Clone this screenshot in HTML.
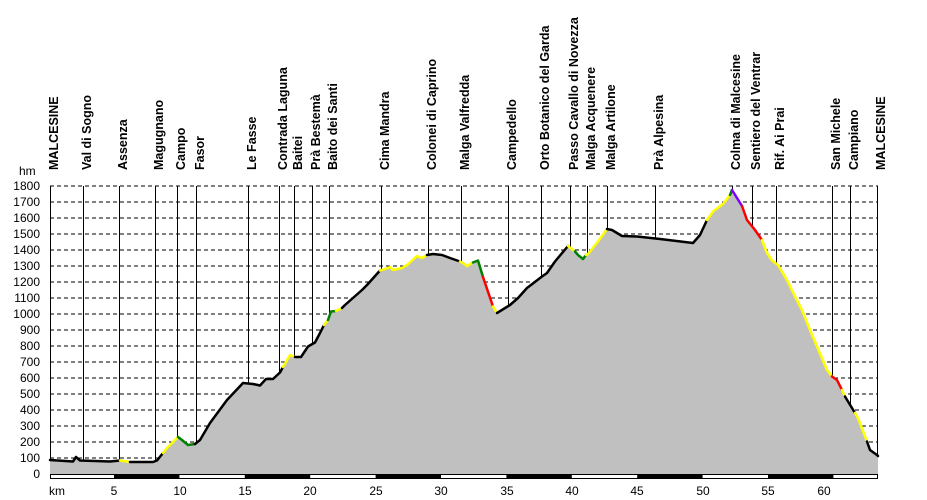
<!DOCTYPE html>
<html><head><meta charset="utf-8"><style>
html,body{margin:0;padding:0;background:#fff;}
svg{display:block;font-family:"Liberation Sans",Arial,sans-serif;}
.w{font-weight:bold;font-size:12.5px;fill:#000;}
.ax{font-size:12px;fill:#000;}
</style></head><body>
<svg width="927" height="500" viewBox="0 0 927 500">
<g stroke="#000" stroke-width="1" stroke-dasharray="4,3">
<line x1="50" y1="186" x2="878" y2="186"/><line x1="50" y1="202" x2="878" y2="202"/><line x1="50" y1="218" x2="878" y2="218"/><line x1="50" y1="234" x2="878" y2="234"/><line x1="50" y1="250" x2="878" y2="250"/><line x1="50" y1="266" x2="878" y2="266"/><line x1="50" y1="282" x2="878" y2="282"/><line x1="50" y1="298" x2="878" y2="298"/><line x1="50" y1="314" x2="878" y2="314"/><line x1="50" y1="330" x2="878" y2="330"/><line x1="50" y1="346" x2="878" y2="346"/><line x1="50" y1="362" x2="878" y2="362"/><line x1="50" y1="378" x2="878" y2="378"/><line x1="50" y1="394" x2="878" y2="394"/><line x1="50" y1="410" x2="878" y2="410"/><line x1="50" y1="426" x2="878" y2="426"/><line x1="50" y1="442" x2="878" y2="442"/><line x1="50" y1="458" x2="878" y2="458"/>
</g>
<g stroke="#000" stroke-width="1">
<line x1="50.5" y1="186" x2="50.5" y2="474"/><line x1="83.5" y1="186" x2="83.5" y2="474"/><line x1="119.5" y1="186" x2="119.5" y2="474"/><line x1="155.5" y1="186" x2="155.5" y2="474"/><line x1="177.5" y1="186" x2="177.5" y2="474"/><line x1="196.5" y1="186" x2="196.5" y2="474"/><line x1="248.5" y1="186" x2="248.5" y2="474"/><line x1="279.5" y1="186" x2="279.5" y2="474"/><line x1="294.5" y1="186" x2="294.5" y2="474"/><line x1="312.5" y1="186" x2="312.5" y2="474"/><line x1="329.5" y1="186" x2="329.5" y2="474"/><line x1="381.5" y1="186" x2="381.5" y2="474"/><line x1="428.5" y1="186" x2="428.5" y2="474"/><line x1="461.5" y1="186" x2="461.5" y2="474"/><line x1="508.5" y1="186" x2="508.5" y2="474"/><line x1="541.5" y1="186" x2="541.5" y2="474"/><line x1="570.5" y1="186" x2="570.5" y2="474"/><line x1="587.5" y1="186" x2="587.5" y2="474"/><line x1="607.5" y1="186" x2="607.5" y2="474"/><line x1="655.5" y1="186" x2="655.5" y2="474"/><line x1="732.5" y1="186" x2="732.5" y2="474"/><line x1="752.5" y1="186" x2="752.5" y2="474"/><line x1="776.5" y1="186" x2="776.5" y2="474"/><line x1="832.5" y1="186" x2="832.5" y2="474"/><line x1="850.5" y1="186" x2="850.5" y2="474"/><line x1="877.5" y1="186" x2="877.5" y2="474"/>
</g>
<polygon fill="#c0c0c0" points="50,460 73,461.5 76,457 80,460.5 110,461.5 120,460.5 130,462 153,462 157,460.5 163,453 167,448 172,443 178,437 182,440 188,445 195,444 200,440 210,423 227,400 243,383 253,384 260,385.5 266,379 273,379 280,372.5 283,367 290,355 295,357 301,357 308,346.5 315,342.5 320,333 324,325 328,320 331,311.5 336,311 342,308 345,305 362,290 367,285 380,270.5 385,269 390,267 393,270 402,268 407,265 417,256 422,258 427,255 433,254 442,255 450,258 460,261.5 463,263 467,266 473,262.5 478,260.5 483,277 493,306.5 497,313 510,305 518,298 527,288 542,276.5 547,273 555,261.5 568,246 575,251.5 578,255 583,259 586,255 588,254 598,241.5 607,229 612,230 622,236 637,236.5 660,239 693,243 700,235 707,220 713,211.5 723,204 730,195 732,190 737,198 742,206 747,220 755,230 762,240 767,253 772,260.5 778,265 787,280 795,296.5 802,310 810,330 817,346.5 827,370 832,376.5 837,380 842,390 845,396.5 855,413 858,418 867,441.5 870,450 877,455 878,456 878,474 50,474"/>
<g fill="none" stroke-width="2.5" stroke-linejoin="round" stroke-linecap="round">
<polyline stroke="#000" points="50,460 73,461.5 76,457 80,460.5 110,461.5 120,460.5"/>
<polyline stroke="#ffff00" points="120,460.5 130,462"/>
<polyline stroke="#000" points="130,462 153,462 157,460.5 163,453"/>
<polyline stroke="#ffff00" points="163,453 167,448 172,443 178,437"/>
<polyline stroke="#008000" points="178,437 182,440 188,445 195,444"/>
<polyline stroke="#000" points="195,444 200,440 210,423 227,400 243,383 253,384 260,385.5 266,379 273,379 280,372.5 283,367"/>
<polyline stroke="#ffff00" points="283,367 290,355 295,357"/>
<polyline stroke="#000" points="295,357 301,357 308,346.5 315,342.5 320,333 324,325"/>
<polyline stroke="#ffff00" points="324,325 328,320"/>
<polyline stroke="#008000" points="328,320 331,311.5 336,311"/>
<polyline stroke="#ffff00" points="336,311 342,308"/>
<polyline stroke="#000" points="342,308 345,305 362,290 367,285 380,270.5"/>
<polyline stroke="#ffff00" points="380,270.5 385,269 390,267 393,270 402,268 407,265 417,256 422,258 427,255"/>
<polyline stroke="#000" points="427,255 433,254 442,255 450,258 460,261.5"/>
<polyline stroke="#ffff00" points="460,261.5 463,263 467,266 473,262.5"/>
<polyline stroke="#008000" points="473,262.5 478,260.5 483,277"/>
<polyline stroke="#ff0000" points="483,277 493,306.5"/>
<polyline stroke="#ffff00" points="493,306.5 497,313"/>
<polyline stroke="#000" points="497,313 510,305 518,298 527,288 542,276.5 547,273 555,261.5 568,246"/>
<polyline stroke="#ffff00" points="568,246 575,251.5"/>
<polyline stroke="#008000" points="575,251.5 578,255 583,259 586,255"/>
<polyline stroke="#ffff00" points="586,255 588,254 598,241.5 607,229"/>
<polyline stroke="#000" points="607,229 612,230 622,236 637,236.5 660,239 693,243 700,235 707,220"/>
<polyline stroke="#ffff00" points="707,220 713,211.5 723,204 730,195"/>
<polyline stroke="#008000" points="730,195 732,190"/>
<polyline stroke="#8000ff" points="732,190 737,198 742,206"/>
<polyline stroke="#ff0000" points="742,206 747,220 755,230 762,240"/>
<polyline stroke="#ffff00" points="762,240 767,253 772,260.5 778,265 787,280 795,296.5 802,310 810,330 817,346.5 827,370 832,376.5"/>
<polyline stroke="#ff0000" points="832,376.5 837,380 842,390"/>
<polyline stroke="#ffff00" points="842,390 845,396.5"/>
<polyline stroke="#000" points="845,396.5 855,413"/>
<polyline stroke="#ffff00" points="855,413 858,418 867,441.5"/>
<polyline stroke="#000" points="867,441.5 870,450 877,455 878,456"/>
</g>
<rect x="50.5" y="474.5" width="827" height="4" fill="#fff" stroke="#000" stroke-width="1"/>
<g fill="#000">
<rect x="114" y="474" width="65.4" height="5"/><rect x="244.8" y="474" width="65.4" height="5"/><rect x="375.6" y="474" width="65.4" height="5"/><rect x="506.4" y="474" width="65.4" height="5"/><rect x="637.2" y="474" width="65.4" height="5"/><rect x="768" y="474" width="65.4" height="5"/>
</g>
<g class="ax" text-anchor="end">
<text x="40" y="190">1800</text><text x="40" y="206">1700</text><text x="40" y="222">1600</text><text x="40" y="238">1500</text><text x="40" y="254">1400</text><text x="40" y="270">1300</text><text x="40" y="286">1200</text><text x="40" y="302">1100</text><text x="40" y="318">1000</text><text x="40" y="334">900</text><text x="40" y="350">800</text><text x="40" y="366">700</text><text x="40" y="382">600</text><text x="40" y="398">500</text><text x="40" y="414">400</text><text x="40" y="430">300</text><text x="40" y="446">200</text><text x="40" y="462">100</text><text x="40" y="478">0</text>
</g>
<text class="ax" x="19" y="175">hm</text>
<g class="ax" text-anchor="middle">
<text x="57" y="495">km</text><text x="114" y="495">5</text><text x="180" y="495">10</text><text x="245" y="495">15</text><text x="310" y="495">20</text><text x="376" y="495">25</text><text x="441" y="495">30</text><text x="507" y="495">35</text><text x="572" y="495">40</text><text x="637" y="495">45</text><text x="703" y="495">50</text><text x="768" y="495">55</text><text x="824" y="495">60</text>
</g>
<g class="w">
<text transform="translate(58,170) rotate(-90)">MALCESINE</text>
<text transform="translate(91,170) rotate(-90)">Val di Sogno</text>
<text transform="translate(127,170) rotate(-90)">Assenza</text>
<text transform="translate(163,170) rotate(-90)">Magugnano</text>
<text transform="translate(185,170) rotate(-90)">Campo</text>
<text transform="translate(204,170) rotate(-90)">Fasor</text>
<text transform="translate(256,170) rotate(-90)">Le Fasse</text>
<text transform="translate(287,170) rotate(-90)">Contrada Laguna</text>
<text transform="translate(302,170) rotate(-90)">Baitei</text>
<text transform="translate(320,170) rotate(-90)">Prà Bestemà</text>
<text transform="translate(337,170) rotate(-90)">Baito dei Santi</text>
<text transform="translate(389,170) rotate(-90)">Cima Mandra</text>
<text transform="translate(436,170) rotate(-90)">Colonei di Caprino</text>
<text transform="translate(469,170) rotate(-90)">Malga Valfredda</text>
<text transform="translate(516,170) rotate(-90)">Campedello</text>
<text transform="translate(549,170) rotate(-90)">Orto Botanico del Garda</text>
<text transform="translate(578,170) rotate(-90)">Passo Cavallo di Novezza</text>
<text transform="translate(595,170) rotate(-90)">Malga Acquenere</text>
<text transform="translate(615,170) rotate(-90)">Malga Artilone</text>
<text transform="translate(663,170) rotate(-90)">Prà Alpesina</text>
<text transform="translate(740,170) rotate(-90)">Colma di Malcesine</text>
<text transform="translate(760,170) rotate(-90)">Sentiero del Ventrar</text>
<text transform="translate(784,170) rotate(-90)">Rif. Ai Prai</text>
<text transform="translate(840,170) rotate(-90)">San Michele</text>
<text transform="translate(858,170) rotate(-90)">Campiano</text>
<text transform="translate(885,170) rotate(-90)">MALCESINE</text>
</g>
</svg>
</body></html>
